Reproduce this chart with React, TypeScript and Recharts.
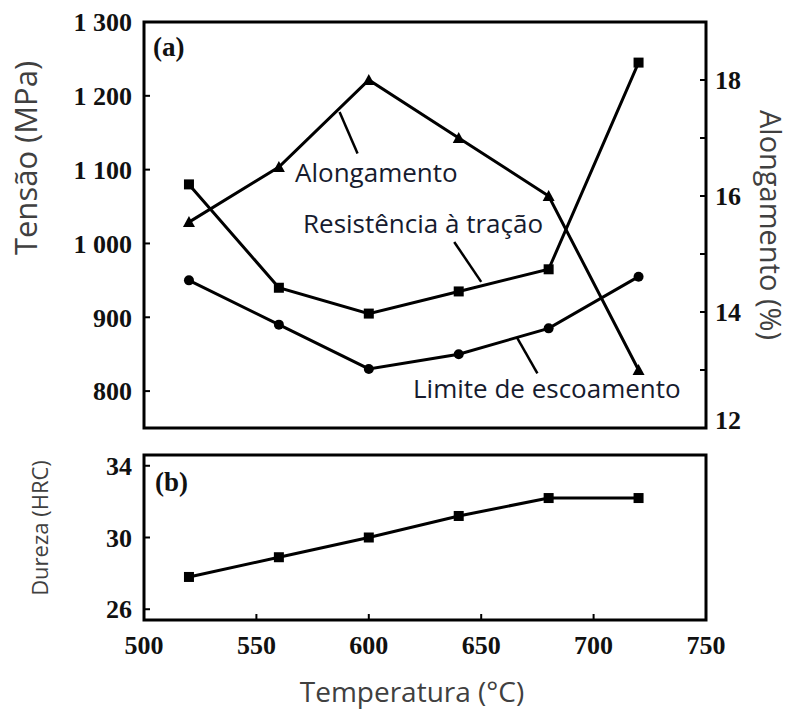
import React from 'react';
import { LineChart, Line, XAxis, YAxis, ReferenceArea, ReferenceLine } from 'recharts';

// temperatura de revenimento (°C)
const temps = [520, 560, 600, 640, 680, 720];
// alongamento (%), eixo direito
const alongamento = [15.55, 16.5, 18.0, 17.0, 16.0, 13.0];
// resistência à tração (MPa)
const resistencia = [1080, 940, 905, 935, 965, 1245];
// limite de escoamento (MPa)
const limite = [950, 890, 830, 850, 885, 955];
// dureza (HRC)
const dureza = [27.8, 28.9, 30.0, 31.2, 32.2, 32.2];

const tempTicks = [500, 550, 600, 650, 700, 750];
const tensaoTicks = [800, 900, 1000, 1100, 1200, 1300];
const alongTicks = [12, 13, 14, 15, 16, 17, 18];
const durezaTicks = [26, 30, 34];

const topData = temps.map((t, i) => ({
  t,
  along: alongamento[i],
  res: resistencia[i],
  lim: limite[i],
}));
const bottomData = temps.map((t, i) => ({ t, hrc: dureza[i] }));

const SERIF = '"Liberation Serif", serif';
const TICK = { fontFamily: SERIF, fontSize: 26, fontWeight: 'bold', fill: '#111' } as const;
const SANS = '"Open Sans", sans-serif';
const NOTE = '#161b2e';

const fmtTensao = (v: number) =>
  v >= 1000 ? `${Math.floor(v / 1000)} ${String(v % 1000).padStart(3, '0')}` : String(v);

// rótulos do eixo direito: só os pares, o 12 fica um pouco acima do canto
function RightTick(props: any) {
  const { x, y, payload } = props;
  const v = payload.value as number;
  if (v % 2 !== 0) return <g />;
  return (
    <text x={x} y={v === 12 ? y - 8 : y} dy="0.355em" textAnchor="start" fontFamily={SERIF} fontSize={26} fontWeight="bold" fill="#111">
      {v}
    </text>
  );
}

function Square(props: any) {
  const { cx, cy, index } = props;
  return <rect key={`sq-${index}`} x={cx - 5} y={cy - 5} width={10} height={10} fill="#000" />;
}

function Circle(props: any) {
  const { cx, cy, index } = props;
  return <circle key={`ci-${index}`} cx={cx} cy={cy} r={5} fill="#000" />;
}

function Triangle(props: any) {
  const { cx, cy, index } = props;
  return (
    <path key={`tr-${index}`} d={`M${cx},${cy - 6} L${cx + 6},${cy + 5} L${cx - 6},${cy + 5} Z`} fill="#000" />
  );
}

export default function App() {
  return (
    <div style={{ position: 'absolute', left: 0, top: 0, width: 790, height: 709, background: '#fff' }}>
      <div style={{ position: 'absolute', left: 0, top: 0 }}>
        <LineChart width={790} height={440} data={topData} margin={{ top: 22, right: 0, bottom: 12, left: 0 }}>
          <XAxis
            dataKey="t"
            type="number"
            domain={[500, 750]}
            ticks={tempTicks}
            interval={0}
            height={0}
            tick={false}
            axisLine={false}
            tickSize={-6}
            tickLine={{ stroke: '#000', strokeWidth: 2 }}
          />
          <YAxis
            yAxisId="left"
            domain={[750, 1300]}
            ticks={tensaoTicks}
            interval={0}
            width={144}
            axisLine={false}
            tickSize={-6}
            tickMargin={18}
            tickLine={{ stroke: '#000', strokeWidth: 2 }}
            tickFormatter={fmtTensao}
            tick={TICK}
          />
          <YAxis
            yAxisId="right"
            orientation="right"
            domain={[12, 19]}
            ticks={alongTicks}
            interval={0}
            width={84}
            axisLine={false}
            tickSize={-6}
            tickMargin={15}
            tickLine={{ stroke: '#000', strokeWidth: 2 }}
            tick={RightTick}
          />
          <ReferenceArea
            yAxisId="left"
            x1={500}
            x2={750}
            y1={750}
            y2={1300}
            fill="none"
            fillOpacity={0}
            stroke="#000"
            strokeWidth={3}
          />
          <ReferenceLine yAxisId="left" segment={[{ x: 587, y: 1178 }, { x: 595, y: 1122 }]} stroke="#000" strokeWidth={2.5} />
          <ReferenceLine yAxisId="left" segment={[{ x: 638, y: 1002 }, { x: 650, y: 948 }]} stroke="#000" strokeWidth={2.5} />
          <ReferenceLine yAxisId="left" segment={[{ x: 666, y: 872 }, { x: 675, y: 824 }]} stroke="#000" strokeWidth={2.5} />
          <Line yAxisId="right" dataKey="along" stroke="#000" strokeWidth={3} dot={Triangle} isAnimationActive={false} />
          <Line yAxisId="left" dataKey="res" stroke="#000" strokeWidth={3} dot={Square} isAnimationActive={false} />
          <Line yAxisId="left" dataKey="lim" stroke="#000" strokeWidth={3} dot={Circle} isAnimationActive={false} />
        </LineChart>
      </div>
      <div style={{ position: 'absolute', left: 0, top: 440 }}>
        <LineChart width={790} height={269} data={bottomData} margin={{ top: 15, right: 84, bottom: 0, left: 0 }}>
          <XAxis
            dataKey="t"
            type="number"
            domain={[500, 750]}
            ticks={tempTicks}
            interval={0}
            height={89}
            axisLine={false}
            tickSize={-6}
            tickMargin={22}
            tickLine={{ stroke: '#000', strokeWidth: 2 }}
            tick={TICK}
          />
          <YAxis
            domain={[25.4, 34.6]}
            ticks={durezaTicks}
            interval={0}
            width={144}
            axisLine={false}
            tickSize={-6}
            tickMargin={18}
            tickLine={{ stroke: '#000', strokeWidth: 2 }}
            tick={TICK}
          />
          <ReferenceArea x1={500} x2={750} y1={25.4} y2={34.6} fill="none" fillOpacity={0} stroke="#000" strokeWidth={3} />
          <Line dataKey="hrc" stroke="#000" strokeWidth={3} dot={Square} isAnimationActive={false} />
        </LineChart>
      </div>
      <svg
        width={790}
        height={709}
        style={{ position: 'absolute', left: 0, top: 0, pointerEvents: 'none' }}
      >
        <text x={153} y={56} fontFamily={SERIF} fontWeight="bold" fontSize={27} fill="#111">(a)</text>
        <text x={155} y={491} fontFamily={SERIF} fontWeight="bold" fontSize={27} fill="#111">(b)</text>
        <text x={295} y={182} fontFamily={SANS} fontSize={26} fill={NOTE}>Alongamento</text>
        <text x={303} y={233} fontFamily={SANS} fontSize={26} fill={NOTE}>Resistência à tração</text>
        <text x={413} y={398} fontFamily={SANS} fontSize={26} fill={NOTE}>Limite de escoamento</text>
        <text transform="translate(37,158) rotate(-90)" textAnchor="middle" fontFamily={SANS} fontSize={31} fill="#404040">Tensão (MPa)</text>
        <text transform="translate(760,225) rotate(90)" textAnchor="middle" fontFamily={SANS} fontSize={29} fill="#404040">Alongamento (%)</text>
        <text transform="translate(48,528) rotate(-90)" textAnchor="middle" fontFamily={SANS} fontSize={22} fill="#404040">Dureza (HRC)</text>
        <text x={412} y={702} textAnchor="middle" fontFamily={SANS} fontSize={28} fill="#404040">Temperatura (°C)</text>
      </svg>
    </div>
  );
}
